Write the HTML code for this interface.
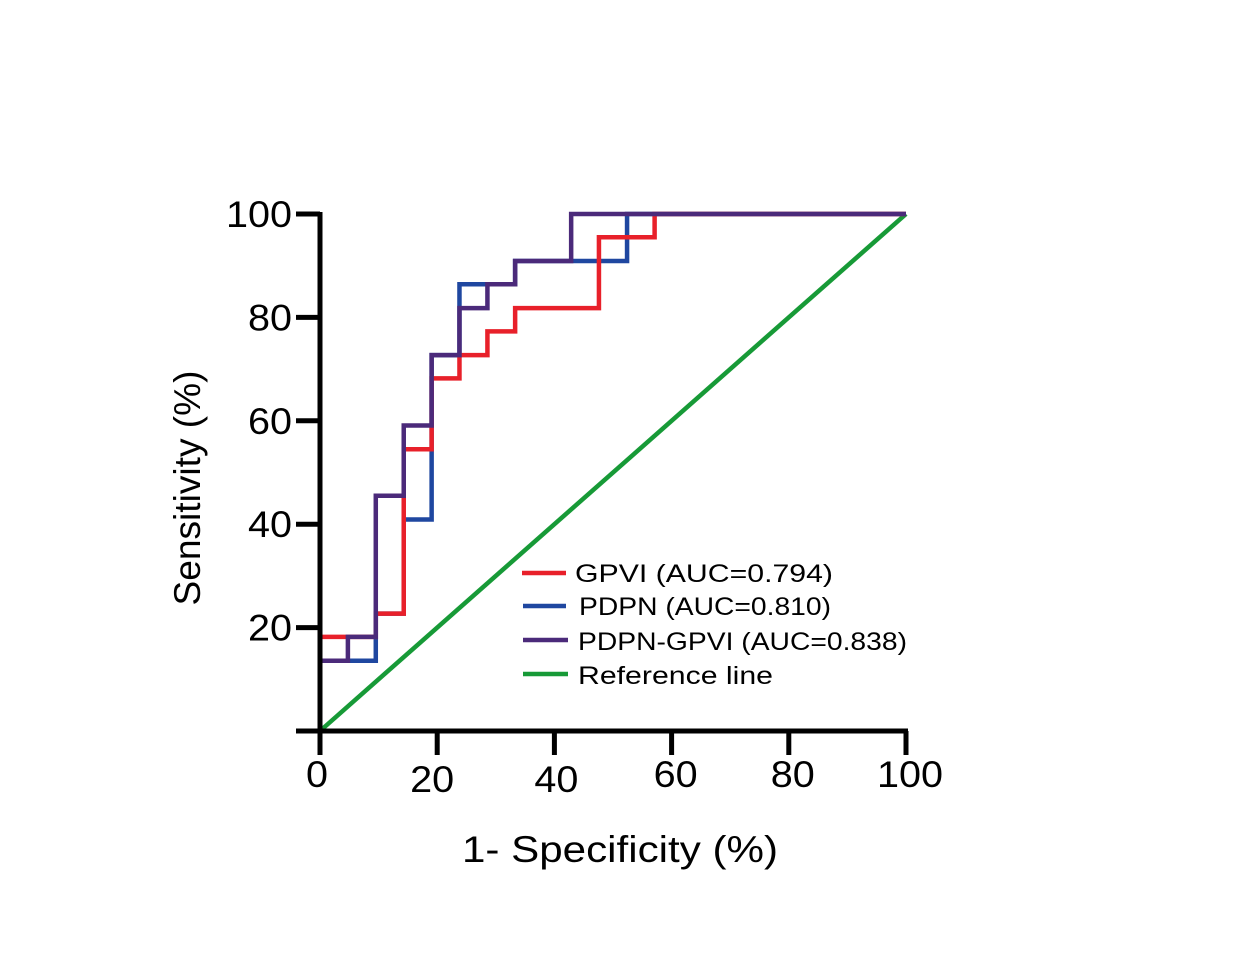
<!DOCTYPE html>
<html><head><meta charset="utf-8"><style>html,body{margin:0;padding:0;background:#fff}</style></head>
<body>
<svg width="1255" height="965" viewBox="0 0 1255 965" xmlns="http://www.w3.org/2000/svg" font-family="Liberation Sans, sans-serif">
<g id="plot"></g>
<script>
const xTicks=[0,20,40,60,80,100];
const yTicks=[20,40,60,80,100];
const gpviX=[0,0,9.52,9.52,14.29,14.29,19.05,19.05,23.8,23.8,28.57,28.57,33.3,33.3,47.6,47.6,57.1,57.1,100];
const gpviY=[0,18.2,18.2,22.7,22.7,54.5,54.5,68.2,68.2,72.7,72.7,77.3,77.3,81.8,81.8,95.5,95.5,100,100];
const pdpnX=[0,0,9.52,9.52,14.29,14.29,19.05,19.05,23.8,23.8,33.3,33.3,52.4,52.4,100];
const pdpnY=[0,13.6,13.6,22.7,22.7,40.9,40.9,72.7,72.7,86.4,86.4,90.9,90.9,100,100];
const comboX=[0,0,4.76,4.76,9.52,9.52,14.29,14.29,19.05,19.05,23.8,23.8,28.57,28.57,33.3,33.3,42.86,42.86,100];
const comboY=[0,13.6,13.6,18.2,18.2,45.5,45.5,59.1,59.1,72.7,72.7,81.8,81.8,86.4,86.4,90.9,90.9,100,100];
const refX=[0,100], refY=[0,100];
const sx=v=>320+v*5.86, sy=v=>731-v*5.17;
const NS='http://www.w3.org/2000/svg', g=document.getElementById('plot');
function mk(t,a){const e=document.createElementNS(NS,t);for(const k in a)e.setAttribute(k,a[k]);g.appendChild(e);return e;}
function line(xs,ys,c,n){const e=mk('polyline',{points:xs.map((x,i)=>sx(x)+','+sy(ys[i])).join(' '),fill:'none',stroke:c,'stroke-width':4.5,'stroke-linejoin':'miter'});

}
line(refX,refY,'#179a37','reference-line');
line(pdpnX,pdpnY,'#1f47a0','pdpn-curve');
line(gpviX,gpviY,'#e8202a','gpvi-curve');
line(comboX,comboY,'#4b2a7a','pdpn-gpvi-curve');
let ax=mk('line',{x1:320,y1:212,x2:320,y2:733,stroke:'#000','stroke-width':5});


ax=mk('line',{x1:296,y1:731,x2:908,y2:731,stroke:'#000','stroke-width':5});


yTicks.forEach(v=>{const t=mk('line',{x1:296,y1:sy(v),x2:320,y2:sy(v),stroke:'#000','stroke-width':5});


const s=String(v);
const l=mk('text',{x:292,y:sy(v)+13,'text-anchor':'end','font-size':37,textLength:s.length*22,lengthAdjust:'spacingAndGlyphs'});l.textContent=s;

});
xTicks.forEach(v=>{const t=mk('line',{x1:sx(v),y1:731,x2:sx(v),y2:755,stroke:'#000','stroke-width':5});


const dy=(v===20||v===40)?792:787;
const s=String(v);
const l=mk('text',{x:sx(v)-(v===20?5:v===40?-2:v===0?3:-4),y:dy,'text-anchor':'middle','font-size':37,textLength:s.length*22,lengthAdjust:'spacingAndGlyphs'});l.textContent=s;

});
</script>
<text x="620" y="862" text-anchor="middle" font-size="37" textLength="316" lengthAdjust="spacingAndGlyphs">1- Specificity (%)</text>
<text transform="translate(200,488) rotate(-90)" text-anchor="middle" font-size="37" textLength="235" lengthAdjust="spacingAndGlyphs">Sensitivity (%)</text>
<g font-size="25">
<line x1="522" y1="573" x2="566" y2="573" stroke="#e8202a" stroke-width="4.5"/>
<text x="575" y="582" textLength="258" lengthAdjust="spacingAndGlyphs">GPVI (AUC=0.794)</text>
<line x1="523" y1="606" x2="566" y2="606" stroke="#1f47a0" stroke-width="4.5"/>
<text x="579" y="615" textLength="252" lengthAdjust="spacingAndGlyphs">PDPN (AUC=0.810)</text>
<line x1="523" y1="640" x2="568" y2="640" stroke="#4b2a7a" stroke-width="4.5"/>
<text x="578" y="650" textLength="329" lengthAdjust="spacingAndGlyphs">PDPN-GPVI (AUC=0.838)</text>
<line x1="523" y1="674" x2="568" y2="674" stroke="#179a37" stroke-width="4.5"/>
<text x="578" y="684" textLength="195" lengthAdjust="spacingAndGlyphs">Reference line</text>
</g>
</svg>
</body></html>
